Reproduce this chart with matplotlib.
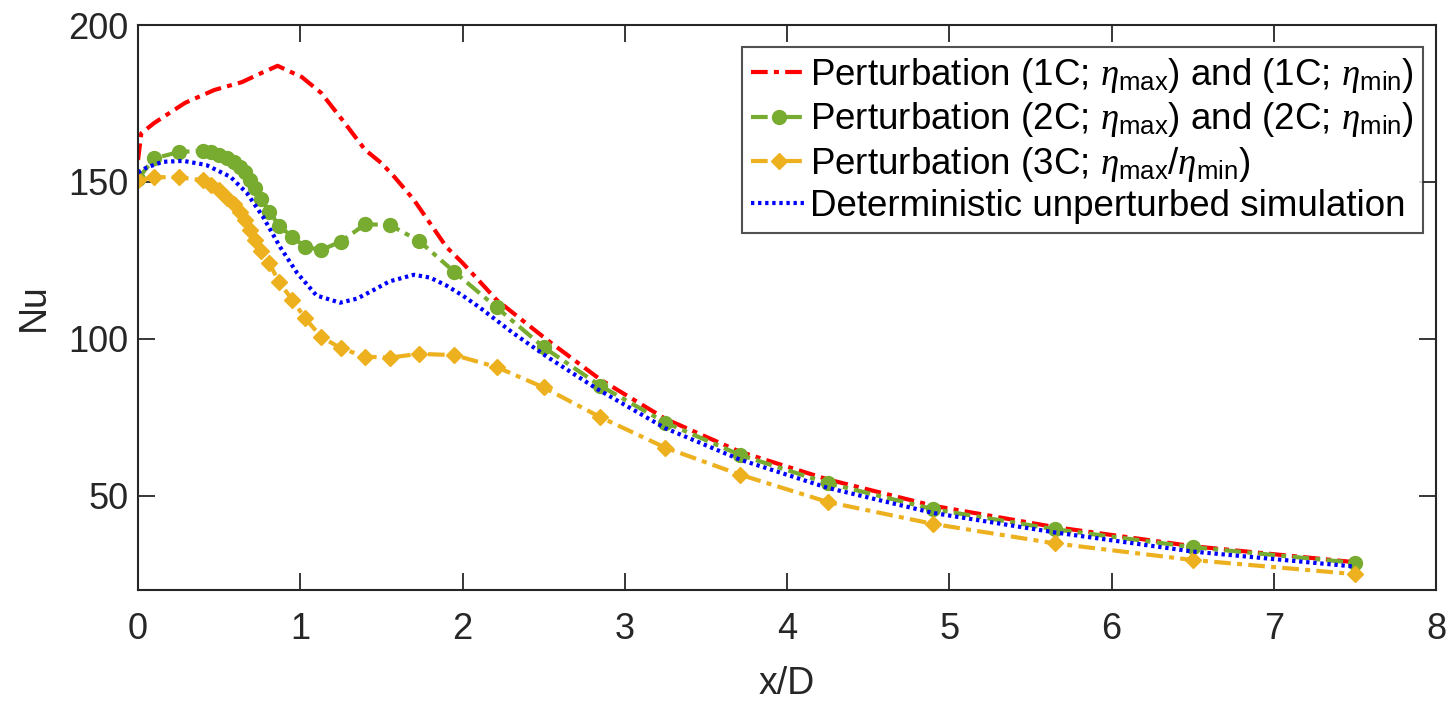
import matplotlib
matplotlib.use("Agg")
import matplotlib.pyplot as plt

plt.rcParams["font.family"] = ["Liberation Sans", "DejaVu Sans"]
plt.rcParams["mathtext.fontset"] = "custom"
plt.rcParams["mathtext.rm"] = "Liberation Sans"
plt.rcParams["mathtext.it"] = "Liberation Serif:italic"

# perturbation 1C (no markers)
x_1c = [0, 0.02, 0.1, 0.29, 0.47, 0.64, 0.76, 0.86, 1.01, 1.13, 1.26, 1.4, 1.5, 1.58, 1.7,
        1.9, 2.0, 2.21, 2.52, 2.85, 3.25, 3.71, 4.25, 4.9, 5.65, 6.5, 7.5]
nu_1c = [157, 165.5, 168.8, 175.2, 179.3, 181.8, 184.7, 187, 183.4, 178.3, 169.7, 160.2, 156,
         151.6, 144.3, 129.3, 124.2, 112.4, 99.7, 87, 74.5, 64, 55.2, 46.8, 40, 33.9, 28.8]

# grid points shared by 2C / 3C
x_pts = [0, 0.1, 0.25, 0.4, 0.45, 0.5, 0.55, 0.59, 0.63, 0.66, 0.69, 0.72, 0.76, 0.81, 0.87,
         0.95, 1.03, 1.13, 1.25, 1.4, 1.55, 1.73, 1.95, 2.21, 2.5, 2.85, 3.25, 3.71, 4.25,
         4.9, 5.65, 6.5, 7.5]
nu_2c = [151, 157.5, 159.5, 160, 159.5, 158.7, 157.6, 156.4, 154.8, 153, 150.5, 148, 144.5,
         140.5, 136, 132.5, 129.3, 128.3, 131, 136.5, 136.3, 131.3, 121.3, 110, 97.3, 85,
         73.3, 63, 54, 45.7, 39.3, 33.6, 28.6]
nu_3c = [150.5, 151.5, 151.5, 150.5, 149, 147.5, 145, 143, 140.5, 138, 134.7, 131.5, 128,
         124, 118, 112.5, 106.5, 100.6, 97, 94.3, 94, 95.2, 94.8, 91, 84.5, 75, 65.3, 56.7,
         48, 41, 34.8, 29.5, 25]

# deterministic unperturbed
x_det = [0, 0.05, 0.15, 0.28, 0.42, 0.57, 0.67, 0.77, 0.875, 0.98, 1.1, 1.245, 1.35, 1.45,
         1.55, 1.7, 1.8, 1.9, 2.0, 2.1, 2.31, 2.52, 2.83, 3.25, 3.71, 4.25, 4.9, 5.65, 6.5, 7.5]
nu_det = [153, 154.5, 156.4, 156.7, 155.4, 151.6, 146.5, 138.9, 129.3, 121, 113.8, 111.5,
          112.8, 115.5, 118.3, 120.4, 119.5, 117, 113.8, 110.2, 101.9, 94.3, 84, 71.5, 61.5,
          52.5, 44.5, 38.3, 32.2, 27.4]

labels = [
    r"Perturbation (1C; $\eta_{\mathrm{max}}$) and (1C; $\eta_{\mathrm{min}}$)",
    r"Perturbation (2C; $\eta_{\mathrm{max}}$) and (2C; $\eta_{\mathrm{min}}$)",
    r"Perturbation (3C; $\eta_{\mathrm{max}}$/$\eta_{\mathrm{min}}$)",
    "Deterministic unperturbed simulation",
]

red = "#ff0000"
green = "#77ac30"
orange = "#edb120"
blue = "#0000ff"
dashdot = (0, (4, 1.5, 1.2, 1.5))

fig = plt.figure(figsize=(14.47, 7.03), dpi=100)
ax = fig.add_axes([0.0954, 0.161, 0.897, 0.8034])

ax.plot(x_1c, nu_1c, color=red, lw=3, linestyle=dashdot, label=labels[0])
ax.plot(x_pts, nu_2c, color=green, lw=3, linestyle=dashdot, marker="o",
        markersize=10, markerfacecolor=green, markeredgecolor=green, label=labels[1])
ax.plot(x_pts, nu_3c, color=orange, lw=3, linestyle=dashdot, marker="D",
        markersize=8.5, markerfacecolor=orange, markeredgecolor=orange, label=labels[2])
ax.plot(x_det, nu_det, color=blue, lw=3, linestyle=(0, (0.8, 0.9)), label=labels[3])

ax.set_xlim(0, 8)
ax.set_ylim(20, 200)
ax.set_xticks(range(0, 9))
ax.set_yticks([50, 100, 150, 200])

axis_col = "#262626"
for s in ax.spines.values():
    s.set_color(axis_col)
    s.set_linewidth(1.5)
ax.tick_params(direction="in", length=12, width=1.3, colors=axis_col, labelsize=26,
               top=True, right=True)
ax.tick_params(axis="x", pad=16)
ax.tick_params(axis="y", pad=7)
ax.set_xlabel("x/D", fontsize=27, color=axis_col, labelpad=14)
ax.set_ylabel("Nu", fontsize=27, color=axis_col, labelpad=12)

leg = ax.legend(loc="upper right", bbox_to_anchor=(0.99, 0.961), fontsize=26.5,
                frameon=True, fancybox=False, edgecolor=axis_col, handlelength=1.5,
                handletextpad=0.1, borderpad=0.25, labelspacing=0.14, borderaxespad=0)
leg.get_frame().set_linewidth(1.5)

fig.savefig("out.png", dpi=100)
